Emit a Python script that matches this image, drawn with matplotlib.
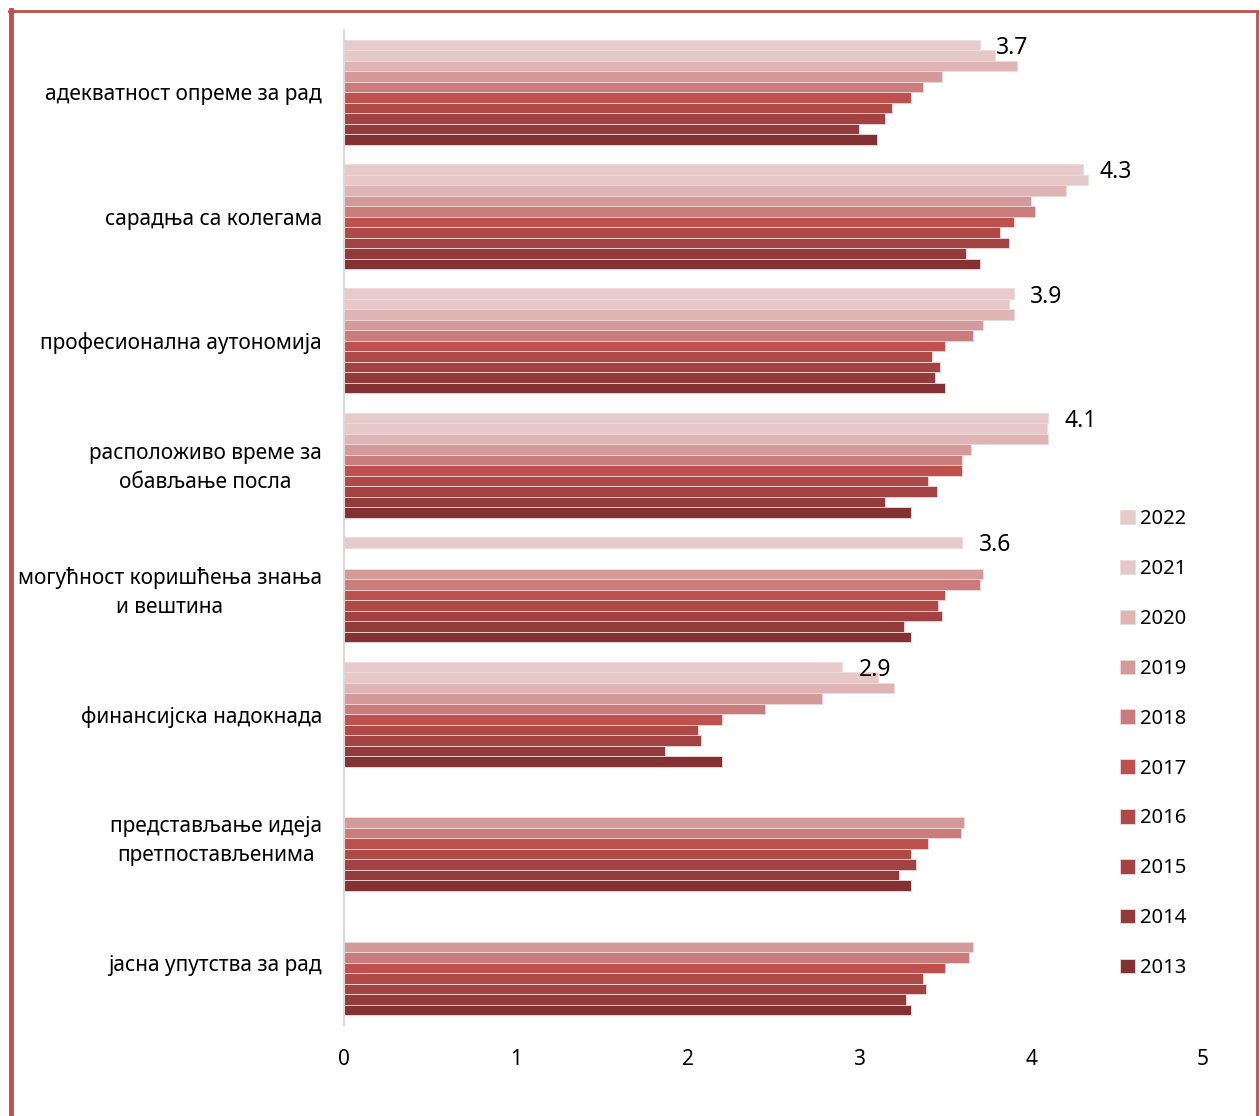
import numpy as np
import matplotlib
matplotlib.use('Agg')
import matplotlib.pyplot as plt
from matplotlib.lines import Line2D

plt.rcParams['font.family'] = ['Noto Sans', 'DejaVu Sans']

kategorije = ['адекватност опреме за рад',
              'сарадња са колегама',
              'професионална аутономија',
              'расположиво време за\nобављање посла',
              'могућност коришћења знања\nи вештина',
              'финансијска надокнада',
              'представљање идеја\nпретпостављенима',
              'јасна упутства за рад']

godine = ['2022', '2021', '2020', '2019', '2018', '2017', '2016', '2015', '2014', '2013']

# vrednosti po godini, redom kao kategorije (None = nema podatka)
v2022 = [3.70, 4.30, 3.90, 4.10, 3.60, 2.90, None, None]
v2021 = [3.79, 4.33, 3.87, 4.09, None, 3.11, None, None]
v2020 = [3.92, 4.20, 3.90, 4.10, None, 3.20, None, None]
v2019 = [3.48, 4.00, 3.72, 3.65, 3.72, 2.78, 3.61, 3.66]
v2018 = [3.37, 4.02, 3.66, 3.60, 3.70, 2.45, 3.59, 3.64]
v2017 = [3.30, 3.90, 3.50, 3.60, 3.50, 2.20, 3.40, 3.50]
v2016 = [3.19, 3.82, 3.42, 3.40, 3.46, 2.06, 3.30, 3.37]
v2015 = [3.15, 3.87, 3.47, 3.45, 3.48, 2.08, 3.33, 3.39]
v2014 = [3.00, 3.62, 3.44, 3.15, 3.26, 1.87, 3.23, 3.27]
v2013 = [3.10, 3.70, 3.50, 3.30, 3.30, 2.20, 3.30, 3.30]

serije = [v2022, v2021, v2020, v2019, v2018, v2017, v2016, v2015, v2014, v2013]
boje = ['#E7CBCC', '#E6C8C9', '#DEB4B4', '#D49A99', '#C97C7B',
        '#BE504D', '#AF4946', '#A34242', '#933A3A', '#843134']

fig = plt.figure(figsize=(12.6, 11.16), dpi=100)
ax = fig.add_axes([344/1260, 1 - 1025/1116, (1203 - 344)/1260, (1025 - 30)/1116])

y = np.arange(len(kategorije))
h = 0.0845
for j, (vals, c, g) in enumerate(zip(serije, boje, godine)):
    w = np.array([np.nan if v is None else v for v in vals], dtype=float)
    ok = ~np.isnan(w)
    off = (j - 4.5) * h
    ax.barh(y[ok] + off, w[ok], height=h, color=c, edgecolor='#F0DADA',
            linewidth=0.6, label=g)

# oznake vrednosti za 2022
for i, v in enumerate(v2022):
    if v is not None:
        ax.text(v + 0.095, i - 4.5 * h + 0.024, f'{v:.1f}', va='center', ha='left',
                fontsize=16.5)

# nazivi kategorija
for i, k in enumerate(kategorije):
    ax.text(-22/859, i + 0.02, k, transform=ax.get_yaxis_transform(), ha='right',
            va='center', multialignment='center', fontsize=15, linespacing=1.5)

ax.set_xlim(0, 5)
ax.set_ylim(len(kategorije) - 0.5, -0.5)
ax.set_yticks([])
ax.set_xticks(range(6))
ax.tick_params(axis='x', length=0, labelsize=15, pad=17)

for s in ['top', 'right', 'bottom']:
    ax.spines[s].set_visible(False)
ax.spines['left'].set_color('#D9D9D9')
ax.spines['left'].set_linewidth(1.5)

leg = ax.legend(loc='upper left', bbox_to_anchor=((1112 - 344)/859, 1 - (501 - 30)/995),
                frameon=False, fontsize=14.5, handlelength=0.72, handleheight=0.72,
                handletextpad=0.28, labelspacing=1.485, borderaxespad=0)

# okvir
crv = '#C0504D'
fig.add_artist(Line2D([11/1260, 11/1260], [0, 1 - 10/1116], color=crv, lw=3.5,
                      transform=fig.transFigure))
fig.add_artist(Line2D([9/1260, 1257/1260], [1 - 11/1116, 1 - 11/1116], color=crv, lw=2,
                      transform=fig.transFigure))
fig.add_artist(Line2D([1257/1260, 1257/1260], [0, 1 - 11/1116], color=crv, lw=2,
                      transform=fig.transFigure))

fig.savefig('out.png', dpi=100)
